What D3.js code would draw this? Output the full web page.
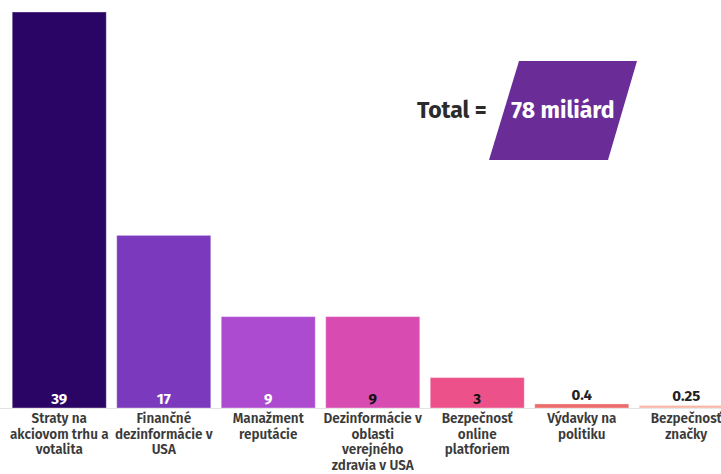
<!DOCTYPE html>
<html>
<head>
<meta charset="utf-8">
<script src="https://cdn.jsdelivr.net/npm/d3@7"></script>
<style>
  html, body { margin: 0; padding: 0; background: #ffffff; overflow: hidden; }
  svg { display: block; }
</style>
</head>
<body>
<svg id="chart" width="721" height="474"></svg>
<script>
const categories = [
  "Straty na akciovom trhu a votalita",
  "Finančné dezinformácie v USA",
  "Manažment reputácie",
  "Dezinformácie v oblasti verejného zdravia v USA",
  "Bezpečnosť online platforiem",
  "Výdavky na politiku",
  "Bezpečnosť značky"
];
const labelLines = [
  ["Straty na", "akciovom trhu a", "votalita"],
  ["Finančné", "dezinformácie v", "USA"],
  ["Manažment", "reputácie"],
  ["Dezinformácie v", "oblasti", "verejného", "zdravia v USA"],
  ["Bezpečnosť", "online", "platforiem"],
  ["Výdavky na", "politiku"],
  ["Bezpečnosť", "značky"]
];
const values = [39, 17, 9, 9, 3, 0.4, 0.25];
const valueLabels = ["39", "17", "9", "9", "3", "0.4", "0.25"];
const colors = ["#2a0565", "#7b3abd", "#ad4bd0", "#d84bb0", "#ec5289", "#eb6b6b", "#f9b5a6"];
const valueTextColors = ["#ffffff", "#ffffff", "#ffffff", "#111111", "#111111", "#222222", "#222222"];
const totalLabel = "Total =";
const totalValue = "78 miliárd";

const svg = d3.select("#chart");
const font = "'Fira Sans','Noto Sans','Open Sans',sans-serif";

const x = d3.scaleBand()
  .domain(categories)
  .range([7, 7 + 731.5])
  .paddingInner(0.1)
  .paddingOuter(0.05);

const y = d3.scaleLinear()
  .domain([0, 39])
  .range([408, 12]);

// baseline
svg.append("line")
  .attr("x1", 0).attr("x2", 721)
  .attr("y1", y(0) + 0.5).attr("y2", y(0) + 0.5)
  .attr("stroke", "#e2e2e2").attr("stroke-width", 1);

// bars
svg.selectAll("rect.bar")
  .data(values)
  .join("rect")
  .attr("class", "bar")
  .attr("x", (d, i) => x(categories[i]))
  .attr("width", x.bandwidth())
  .attr("y", d => y(d))
  .attr("height", d => y(0) - y(d))
  .attr("fill", (d, i) => colors[i])
  .attr("stroke", "rgba(255,255,255,0.35)")
  .attr("stroke-width", 1);

// value labels
svg.selectAll("text.val")
  .data(values)
  .join("text")
  .attr("class", "val")
  .attr("x", (d, i) => x(categories[i]) + x.bandwidth() / 2)
  .attr("y", d => (y(0) - y(d) > 20 ? y(0) - 4 : y(d) - 4))
  .attr("text-anchor", "middle")
  .attr("font-family", font)
  .attr("font-weight", "bold")
  .attr("font-size", 15)
  .attr("fill", (d, i) => valueTextColors[i])
  .text((d, i) => valueLabels[i]);

// category labels
const lab = svg.selectAll("text.cat")
  .data(labelLines)
  .join("text")
  .attr("class", "cat")
  .attr("text-anchor", "middle")
  .attr("font-family", font)
  .attr("font-weight", 600)
  .attr("font-size", 13.5)
  .attr("fill", "#3a3a3a");
lab.each(function (lines, i) {
  const cx = x(categories[i]) + x.bandwidth() / 2;
  d3.select(this).selectAll("tspan")
    .data(lines)
    .join("tspan")
    .attr("x", cx)
    .attr("y", (d, j) => 423 + j * 15.6)
    .text(d => d);
});

// total badge
svg.append("path")
  .attr("d", "M519,61 L637,61 L608,160 L489,160 Z")
  .attr("fill", "#6a2c96");
svg.append("text")
  .attr("x", 417).attr("y", 118)
  .attr("font-family", font)
  .attr("font-weight", "bold")
  .attr("font-size", 23)
  .attr("fill", "#2b2b2b")
  .text(totalLabel);
svg.append("text")
  .attr("x", 563).attr("y", 118)
  .attr("text-anchor", "middle")
  .attr("font-family", font)
  .attr("font-weight", "bold")
  .attr("font-size", 23)
  .attr("fill", "#ffffff")
  .text(totalValue);
</script>
</body>
</html>
